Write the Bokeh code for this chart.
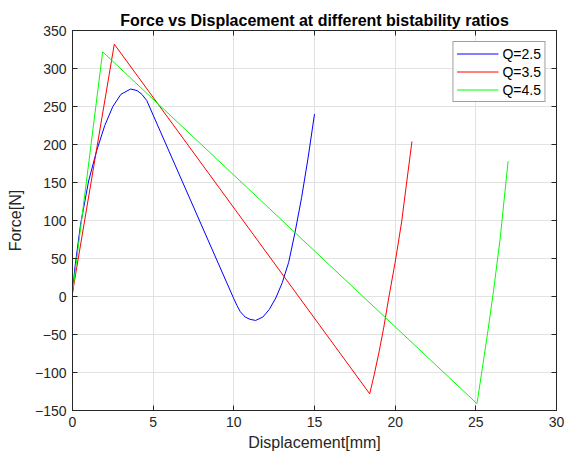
from bokeh.plotting import figure
from bokeh.models import FixedTicker, LinearAxis, Range1d
from bokeh.embed import file_html
from bokeh.resources import INLINE

# ---- data ----
blue_x = [0, 0.15, 0.5, 1.0, 1.5, 2.0, 2.5, 3.0, 3.6, 4.0, 4.3, 4.6, 10.0, 10.2, 10.4, 10.7, 11.0, 11.35,
          11.8, 12.2, 12.6, 13.0, 13.4, 13.8, 14.2, 14.6, 15.0]
blue_y = [5, 38, 95, 152, 192, 225, 250, 266, 273, 271, 266, 258, -3, -12, -20, -27, -30, -31.5,
          -27, -17, -2, 18, 45, 85, 130, 182, 240]

red_x = [0, 2.59, 18.42, 18.7, 19.0, 19.3, 19.6, 20.0, 20.4, 20.7, 21.04]
red_y = [5, 332, -128, -103, -73, -40, -2, 45, 98, 148, 204]

green_x = [0, 1.87, 25.07, 25.4, 25.75, 26.1, 26.5, 27.0]
green_y = [5, 322, -141, -95, -45, 8, 75, 178]

series_labels = ["Q=2.5", "Q=3.5", "Q=4.5"]
series_colors = ["#0000ff", "#ff0000", "#00ff00"]

x_ticks = [0, 5, 10, 15, 20, 25, 30]
y_ticks = [-150, -100, -50, 0, 50, 100, 150, 200, 250, 300, 350]

FONT = "Liberation Sans"
DARK = "#262626"

p = figure(width=572, height=459, output_backend="svg", toolbar_location=None,
           x_range=Range1d(0, 30), y_range=Range1d(-150, 350),
           min_border_left=72, min_border_right=16, min_border_top=30, min_border_bottom=49,
           background_fill_color="white", border_fill_color="white")

p.title.text = "Force vs Displacement at different bistability ratios"
p.title.align = "center"
p.title.text_font = FONT
p.title.text_font_size = "16px"
p.title.text_font_style = "bold"
p.title.text_color = "#000000"
p.title.offset = 0
p.title.standoff = 4

p.outline_line_color = DARK
p.outline_line_width = 1

for ax, ticks in ((p.xaxis[0], x_ticks), (p.yaxis[0], y_ticks)):
    ax.ticker = FixedTicker(ticks=ticks)
    ax.major_tick_in = 5
    ax.major_tick_out = 0
    ax.minor_tick_line_color = None
    ax.axis_line_color = DARK
    ax.major_tick_line_color = DARK
    ax.major_label_text_font = FONT
    ax.major_label_text_font_size = "14px"
    ax.major_label_text_color = DARK
    ax.axis_label_text_font = FONT
    ax.axis_label_text_font_size = "16px"
    ax.axis_label_text_font_style = "normal"
    ax.axis_label_text_color = DARK

p.xaxis[0].axis_label = "Displacement[mm]"
p.yaxis[0].axis_label = "Force[N]"
p.xaxis[0].major_label_standoff = 6
p.yaxis[0].major_label_standoff = 6
p.xaxis[0].axis_label_standoff = 4
p.yaxis[0].axis_label_standoff = 8

for loc, ticks in (("above", x_ticks), ("right", y_ticks)):
    ax2 = LinearAxis(ticker=FixedTicker(ticks=ticks), major_tick_in=5, major_tick_out=0,
                     minor_tick_line_color=None, axis_line_color=DARK, major_tick_line_color=DARK,
                     major_label_text_font_size="0px", major_label_text_color=None,
                     major_label_standoff=0)
    p.add_layout(ax2, loc)

p.xgrid.ticker = FixedTicker(ticks=x_ticks)
p.ygrid.ticker = FixedTicker(ticks=y_ticks)
p.grid.grid_line_color = "#e2e2e2"
p.grid.grid_line_width = 1

p.line(blue_x, blue_y, line_color=series_colors[0], line_width=1, legend_label=series_labels[0])
p.line(red_x, red_y, line_color=series_colors[1], line_width=1, legend_label=series_labels[1])
p.line(green_x, green_y, line_color=series_colors[2], line_width=1, legend_label=series_labels[2])

legend = p.legend[0]
legend.location = "top_right"
legend.margin = 11
legend.padding = 3
legend.spacing = 1
legend.glyph_width = 42
legend.glyph_height = 17
legend.label_height = 17
legend.label_standoff = 4
legend.label_text_font = FONT
legend.label_text_font_size = "14px"
legend.label_text_color = "#000000"
legend.border_line_color = "#404040"
legend.border_line_width = 1
legend.background_fill_color = "white"
legend.background_fill_alpha = 1

open("out.html", "w").write(file_html(p, INLINE))
